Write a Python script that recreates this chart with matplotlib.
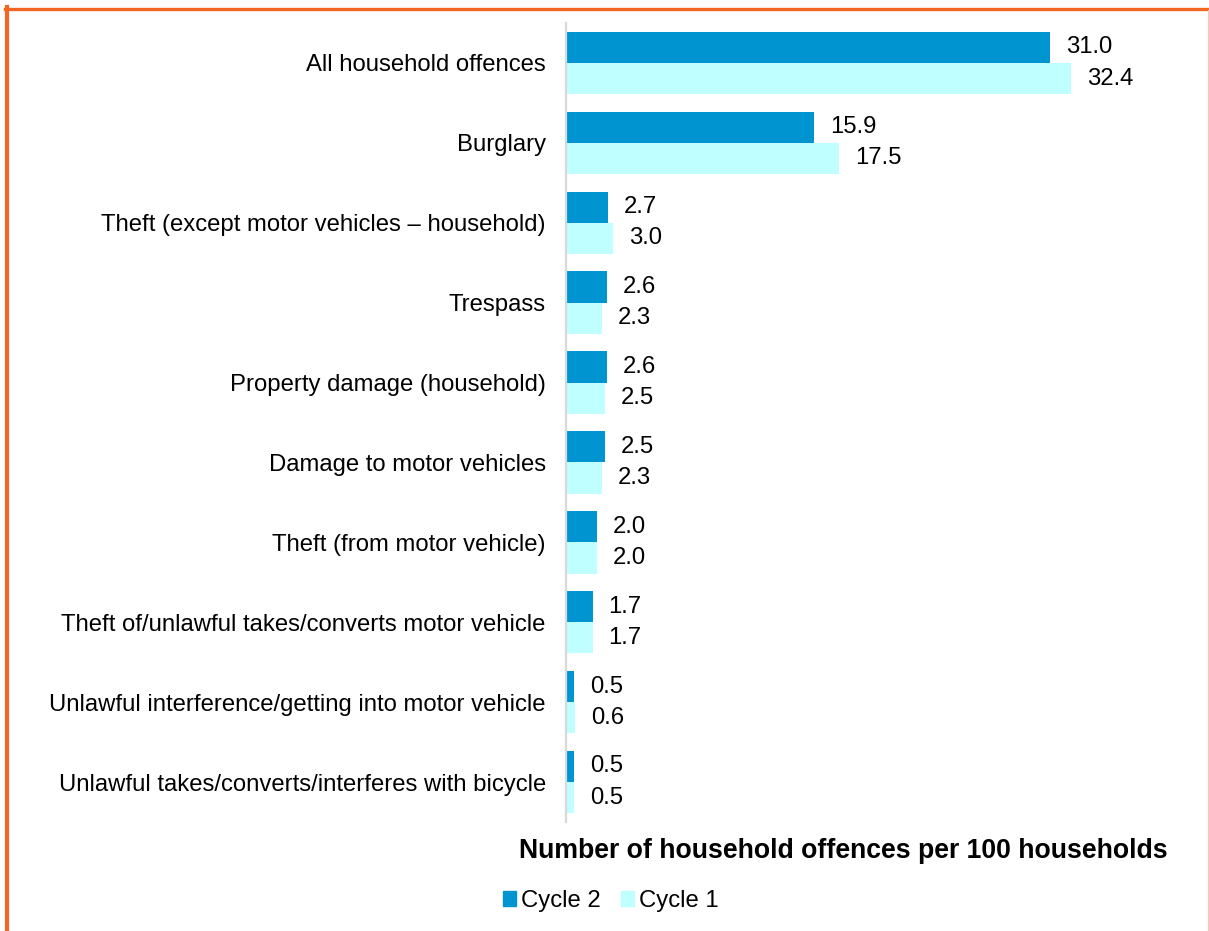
import matplotlib
matplotlib.use("Agg")
import matplotlib.pyplot as plt
import numpy as np
from matplotlib.patches import Rectangle
from matplotlib.lines import Line2D

categories = [
    "All household offences",
    "Burglary",
    "Theft (except motor vehicles \u2013 household)",
    "Trespass",
    "Property damage (household)",
    "Damage to motor vehicles",
    "Theft (from motor vehicle)",
    "Theft of/unlawful takes/converts motor vehicle",
    "Unlawful interference/getting into motor vehicle",
    "Unlawful takes/converts/interferes with bicycle",
]
cycle2 = [31.0, 15.9, 2.7, 2.6, 2.6, 2.5, 2.0, 1.7, 0.5, 0.5]
cycle1 = [32.4, 17.5, 3.0, 2.3, 2.5, 2.3, 2.0, 1.7, 0.6, 0.5]
series_names = ["Cycle 2", "Cycle 1"]
x_title = "Number of household offences per 100 households"

plt.rcParams["font.family"] = ["Liberation Sans", "DejaVu Sans"]

W, H = 1209, 931
fig = plt.figure(figsize=(W / 100, H / 100), dpi=100)

c2_color = "#0094D0"
c1_color = "#BFFFFF"
fs = 17.2

left_px, right_px, top_px, bottom_px = 566, 1112, 23, 822
ax = fig.add_axes([left_px / W, 1 - bottom_px / H,
                   (right_px - left_px) / W, (bottom_px - top_px) / H])

y = np.arange(len(categories))
bh = 0.39
ax.barh(y - bh / 2, cycle2, height=bh, color=c2_color, label=series_names[0])
ax.barh(y + bh / 2, cycle1, height=bh, color=c1_color, label=series_names[1])

for yi, v in zip(y, cycle2):
    ax.annotate(f"{v:.1f}", (v, yi - bh / 2), xytext=(11.5, 0),
                textcoords="offset points", va="center", ha="left", fontsize=fs)
for yi, v in zip(y, cycle1):
    ax.annotate(f"{v:.1f}", (v, yi + bh / 2), xytext=(11.5, 0),
                textcoords="offset points", va="center", ha="left", fontsize=fs)

ax.set_xlim(0, 35)
ax.set_ylim(len(categories) - 0.5, -0.5)
ax.set_yticks(y)
ax.set_yticklabels(categories, fontsize=fs)
ax.tick_params(axis="y", length=0, pad=14.5)
ax.set_xticks([])
for s in ["top", "right", "bottom"]:
    ax.spines[s].set_visible(False)
ax.spines["left"].set_color("#D9D9D9")
ax.spines["left"].set_linewidth(1.6)

fig.text(843 / W, 1 - 851 / H, x_title, ha="center", va="center",
         fontsize=19.2, fontweight="bold")

handles = [Rectangle((0, 0), 1, 1, color=c2_color), Rectangle((0, 0), 1, 1, color=c1_color)]
fig.legend(handles, series_names, loc="center", bbox_to_anchor=(611 / W, 1 - 901 / H),
           ncol=2, frameon=False, fontsize=fs, handlelength=0.55, handleheight=0.55,
           handletextpad=0.2, columnspacing=0.85)

# page frame
orange = "#F26522"
fig.add_artist(Line2D([5 / W, 1], [1 - 8.5 / H, 1 - 8.5 / H], color=orange, lw=2.4,
                      transform=fig.transFigure))
fig.add_artist(Line2D([6.5 / W, 6.5 / W], [0, 1 - 7 / H], color=orange, lw=3.0,
                      transform=fig.transFigure))
fig.add_artist(Line2D([1207.5 / W, 1207.5 / W], [0, 1 - 10 / H], color="#F9C8B0", lw=0.8,
                      transform=fig.transFigure))

fig.savefig("out.png", dpi=100)
